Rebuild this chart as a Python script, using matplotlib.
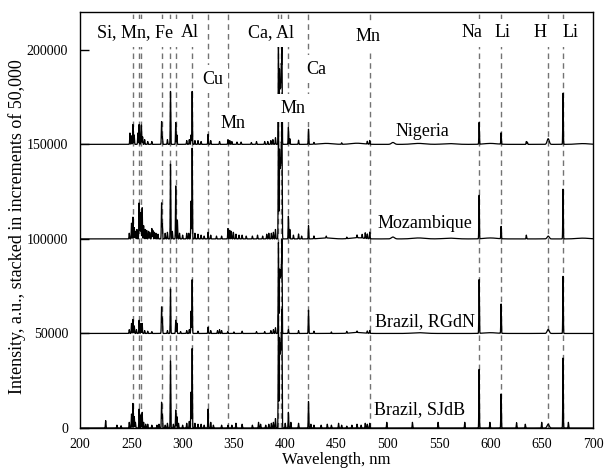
import numpy as np
import matplotlib
matplotlib.use("Agg")
import matplotlib.pyplot as plt

plt.rcParams['font.family'] = ['Liberation Serif', 'DejaVu Serif']

# ---------------- data ----------------
series_names = ["Nigeria", "Mozambique", "Brazil, RGdN", "Brazil, SJdB"]
offsets = [150000, 100000, 50000, 0]

nigeria_wl = [248.7, 250.2, 251.6, 252.8, 256.4, 257.6, 259.4, 259.9, 261, 263, 266, 270,
              279.5, 280.3, 285.2, 288.2, 293.3, 294.4, 304, 306.5, 308.2, 309.3, 312, 315,
              318, 324.8, 327.4, 336, 344.2, 346, 348, 353, 357, 367, 372, 380, 383, 386,
              388, 390.5, 393.4, 394.4, 395.0, 395.6, 396.2, 396.8, 403.1, 404.5, 413, 422.7,
              428, 455, 480, 482.4, 589.0, 610.4, 635, 636, 670.8]
nigeria_h = [6000, 4500, 10500, 5000, 6000, 10500, 7000, 9000, 4000, 2500, 1500, 1500,
             12000, 4000, 2500, 28000, 11500, 5000, 2000, 2500, 5000, 28000, 2000, 2000,
             1500, 5300, 2000, 1500, 2500, 2000, 1500, 1200, 1200, 1000, 1500, 1500, 1500, 2000,
             2500, 3500, 51500, 38000, 30000, 30000, 38000, 51500, 9000, 3000, 2200, 8000,
             1000, 800, 1500, 2000, 11500, 6000, 1500, 1200, 27000]

mozambique_wl = [248, 250.2, 251.6, 252.9, 254, 255.5, 257.6, 258.5, 259.4, 260.6, 262, 263.5,
                 265, 266.8, 268, 270, 271, 272.5, 274, 276, 279.5, 280.3, 283, 285.2, 288.2,
                 290, 293.3, 294.9, 297, 300, 304, 306, 308.2, 309.3, 312, 315, 318, 321,
                 324.8, 327.4, 333, 338, 344.2, 346, 347.5, 349.5, 352, 355, 358, 362, 368,
                 373, 378, 382, 384, 386.5, 388.5, 390.5, 393.4, 394.4, 395.0, 395.6, 396.2,
                 396.8, 403.1, 404.5, 408, 413, 416, 422.7, 428, 440, 460, 470, 475, 478, 480,
                 482.4, 589.0, 610.4, 635, 670.8]
mozambique_h = [3000, 8300, 11500, 6000, 4000, 5000, 19000, 8000, 14000, 16500, 7000, 5000,
                4500, 4000, 3500, 5500, 4500, 3500, 3000, 2500, 19000, 8000, 3000, 3500, 39500,
                4000, 28000, 10000, 3000, 2000, 3000, 3000, 20000, 48000, 3000, 2500, 2000, 1500,
                3500, 2000, 1500, 1500, 5500, 4500, 4000, 3500, 2500, 2000, 2000, 1500, 1500,
                2000, 1500, 2500, 3000, 3000, 3500, 5000, 65000, 45000, 38000, 38000, 45000,
                65000, 12000, 5000, 2000, 2600, 1500, 7000, 1500, 1000, 800, 1500, 2000, 3000,
                2500, 3500, 23000, 6500, 2000, 26300]

rgdn_wl = [248, 250.2, 251.6, 252.9, 255, 257.6, 259.4, 260.6, 263, 266, 270, 279.5, 280.3,
           285.2, 288.2, 293.3, 294.4, 298, 304, 306.5, 308.2, 309.3, 315, 324.8, 327.4, 334,
           336, 338, 344, 350, 358, 372, 380, 386, 388.5, 390.5, 393.4, 394.4, 395.0, 395.6,
           396.2, 396.8, 403.1, 413, 422.7, 428, 445, 460, 470, 480, 482.4, 589.0, 610.4, 670.8]
rgdn_h = [2000, 5300, 7400, 4000, 2000, 7000, 5300, 5300, 1500, 1200, 1000, 14000, 8000,
          1500, 23500, 7000, 5500, 1000, 1500, 2000, 11800, 28400, 1200, 3300, 1500, 1500,
          2000, 1500, 1000, 800, 1200, 1000, 1000, 1500, 2000, 3000, 48000, 32000, 30000, 30000,
          32000, 48000, 2000, 1500, 12300, 1200, 800, 1000, 800, 1200, 1500, 28400, 15500, 30200]

sjdb_wl = [225, 236, 240, 248, 250.2, 251.6, 252.9, 254, 257.6, 259.4, 260.6, 262, 264, 266,
           270, 275, 277, 279.5, 280.3, 283, 285.2, 288.2, 291, 293.3, 294.4, 296, 300, 304,
           306.5, 308.2, 309.3, 312, 315, 318, 321, 324.8, 327.4, 330, 338, 344.2, 348, 352,
           358, 368, 374, 376, 381, 384, 386.5, 388.5, 390.5, 393.4, 394.4, 395.0, 395.6, 396.2,
           396.8, 400, 403.1, 405.5, 413, 422.7, 425, 428, 435, 441, 445, 452, 455, 460, 465,
           470, 474, 478, 480, 482.4, 499, 524, 549, 575, 589.0, 599.5, 610.4, 625.5, 634, 650,
           670.8, 676]
sjdb_h = [3900, 1500, 1200, 3000, 7400, 13000, 6000, 3000, 10000, 7000, 8300, 3000, 2000, 2000,
          1500, 1500, 2000, 13600, 7000, 1500, 2500, 35500, 2000, 9500, 6000, 2500, 1500, 2500,
          3500, 19000, 42000, 2500, 2000, 2000, 1500, 10000, 3000, 1500, 1500, 1500, 1500, 2500,
          2000, 1500, 3000, 2000, 1500, 2000, 2500, 3000, 5000, 60000, 45000, 40000, 40000, 45000,
          60000, 2500, 8300, 3000, 2500, 14000, 2000, 1500, 1500, 2000, 1500, 2500, 1500, 1000,
          1500, 2000, 1500, 2500, 2000, 2500, 3000, 3000, 3000, 3000, 31000, 3000, 18000, 2800,
          2000, 3000, 37000, 3000]

# broad features (H-alpha, baseline undulations): wavelength, height, width
broad_wl = [[505, 656.3, 440, 470, 530, 560, 600, 690],
            [505, 656.3, 440, 470, 530, 560, 600, 690],
            [656.3, 470, 530, 600],
            [656.3]]
broad_h = [[1000, 3000, 500, 600, 500, 400, 500, 400],
           [1000, 1500, 500, 600, 500, 400, 500, 400],
           [2100, 500, 400, 400],
           [2000]]
broad_w = [[1.5, 1.0, 6, 6, 6, 6, 6, 6],
           [1.5, 1.0, 6, 6, 6, 6, 6, 6],
           [1.0, 6, 6, 6],
           [1.0]]

line_wl = [251.6, 257.6, 259.9, 279.5, 288.2, 293.3, 309.3, 324.8, 344.2, 393.4, 396.2,
           403.1, 422.7, 482.4, 589.0, 610.4, 656.3, 670.8]

element_labels = ["Si, Mn, Fe", "Al", "Ca, Al", "Cu", "Mn", "Mn", "Ca", "Mn", "Na", "Li", "H", "Li"]
element_x = [253.6, 307.2, 386.6, 329.1, 349.1, 408.1, 430.0, 480.7, 582.1, 611.3, 648.3, 677.6]
element_y = [206700, 206700, 206700, 182000, 158600, 166800, 187300, 204400, 206700, 206700, 206700, 206700]

series_label_x = [533.5, 536.3, 536.3, 530.6]
series_label_y = [154500, 106000, 54000, 7400]

xticks = [200, 250, 300, 350, 400, 450, 500, 550, 600, 650, 700]
yticks = [0, 50000, 100000, 150000, 200000]

# ---------------- plot ----------------
fig = plt.figure(figsize=(6.04, 4.68), dpi=100)
ax = fig.add_axes([80/604, 1 - 428/468, (593 - 80)/604, (428 - 12)/468])

grid = np.arange(200, 700.001, 0.05)
peak_sets = [(nigeria_wl, nigeria_h), (mozambique_wl, mozambique_h),
             (rgdn_wl, rgdn_h), (sjdb_wl, sjdb_h)]
sigma = 0.25
for i, (wl, h) in enumerate(peak_sets):
    y = np.full_like(grid, offsets[i], dtype=float)
    for w0, h0 in zip(wl, h):
        y += h0 * np.exp(-0.5 * ((grid - w0) / sigma) ** 2)
    for w0, h0, s0 in zip(broad_wl[i], broad_h[i], broad_w[i]):
        y += h0 * np.exp(-0.5 * ((grid - w0) / s0) ** 2)
    ax.plot(grid, y, color='black', lw=0.9, zorder=2)

for w in line_wl:
    ax.axvline(w, color='0.45', lw=1.0, linestyle=(0, (4, 3)), zorder=1)

for t, x, y in zip(element_labels, element_x, element_y):
    ax.text(x, y, t, ha='center', va='baseline', fontsize=13, zorder=5,
            bbox=dict(boxstyle='square,pad=0.3', fc='white', ec='none'))

for t, x, y in zip(series_names, series_label_x, series_label_y):
    ax.text(x, y, t, ha='center', va='baseline', fontsize=13, zorder=5)

ax.set_xlim(200, 700)
ax.set_ylim(0, 220000)
ax.set_xticks(xticks)
ax.set_yticks(yticks)
ax.tick_params(axis='x', length=0, pad=7, labelsize=10)
ax.tick_params(axis='y', direction='in', length=6.5, width=1, pad=8.5, labelsize=10)
for sp in ax.spines.values():
    sp.set_linewidth(1.0)
ax.set_xlabel("Wavelength, nm", fontsize=12, labelpad=1)
ax.set_ylabel("Intensity, a.u., stacked in increments of 50,000", fontsize=13)
ax.yaxis.set_label_coords(-0.106, 0.483)

fig.savefig("out.png", dpi=100)
